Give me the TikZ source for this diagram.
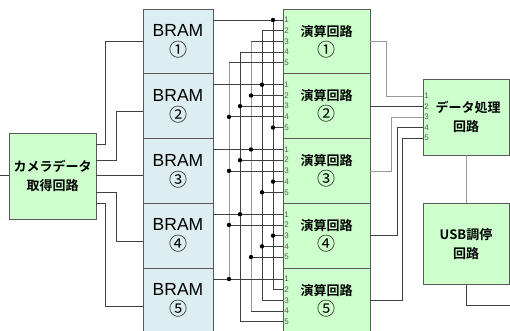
\documentclass[tikz,border=0pt]{standalone}
\usepackage{fontspec}
\setmainfont{Liberation Sans}
\newfontfamily\jp{Noto Sans CJK JP}[BoldFont={Noto Sans CJK JP Bold}]
\usetikzlibrary{positioning}
\definecolor{bramfill}{RGB}{221,238,241}
\definecolor{calcfill}{RGB}{204,255,204}

\begin{document}
\begin{tikzpicture}[x=1pt, y=-1pt,
  box/.style={draw=black!65, line width=0.6pt, fill=#1, align=center, inner sep=0pt},
  box/.default=calcfill,
  wire/.style={draw=black!75, line width=0.8pt},
  wirelt/.style={draw=black!40, line width=0.8pt},
  port/.style={font=\fontsize{8}{8}\selectfont, text=black!65, inner sep=0pt, anchor=west},
  jpbold/.style={font=\jp\bfseries\fontsize{13}{19}\selectfont}]
\clip (0,0) rectangle (510,331);
% memory and calc columns
\foreach \i/\n in {1/①,2/②,3/③,4/④,5/⑤}{
  \node[box=bramfill, minimum width=70pt, minimum height=64.75pt,
        font=\fontsize{17.5}{20}\selectfont] (bram\i) at (178,{41.4+64.75*(\i-1)})
        {BRAM\\{\jp\fontsize{18}{20}\selectfont\n}};
  \node[box, minimum width=87pt, minimum height=64.75pt,
        font=\jp\bfseries\fontsize{13}{20}\selectfont] (calc\i) at (326.5,{41.4+64.75*(\i-1)})
        {演算回路\\{\mdseries\fontsize{18}{20}\selectfont\n}};
}
\node[box, minimum width=87pt, minimum height=86pt, jpbold] (cam) at (52.5,176) {カメラデータ\\取得回路};
\node[box, minimum width=86pt, minimum height=76pt, jpbold] (proc) at (466,117) {\hspace*{4pt}データ処理\\回路};
\node[box, minimum width=86pt, minimum height=81pt, jpbold, below=48pt of proc] (usb) {USB調停\\回路};
\coordinate (camin) at (-2,175);
\coordinate (usbout) at (512,305);
% ports
\foreach \j in {1,...,5}{
  \foreach \k in {1,...,5}{
    \coordinate (p\j-\k) at ([yshift={(3-\k)*10.7pt}]calc\j.west);
    \node[port] (l\j-\k) at ([xshift=1.5pt]p\j-\k) {\k};
  }
}
\foreach \k in {1,...,5}{
  \coordinate (q\k) at ([yshift={(3-\k)*10.5pt}]proc.west);
  \node[port] (ql\k) at ([xshift=1.5pt]q\k) {\k};
}
% buses
\foreach \i/\s in {1/wire,2/wire,3/wirelt,4/wire,5/wirelt}{
  \coordinate (bus\i) at ({273-11*(\i-1)},0);
  \pgfmathtruncatemacro\b{mod(\i,5)+1}
  \draw[\s] (bus\i |- p1-\i) -- (bus\i |- p5-\b);
}
\foreach \j in {1,...,5}{
  \draw[wire] (bram\j.east |- p\j-1) -- (p\j-1);
  \fill (bus\j |- p\j-1) circle (2.2pt);
  \foreach \k in {2,...,5}{
    \pgfmathtruncatemacro\i{mod(\j+\k-2,5)+1}
    \draw[wire] (bus\i |- p\j-\k) -- (p\j-\k);
    \ifnum\j>1 \ifnum\j<5 \fill (bus\i |- p\j-\k) circle (2.2pt); \fi\fi
  }
}
% camera to memories
\draw[wire] (camin) -- (cam.west |- camin);
\draw[wire] ([yshift=32pt]cam.east) -| ([xshift=-37pt]bram1.west) -- (bram1.west);
\draw[wire] ([yshift=16pt]cam.east) -| ([xshift=-26pt,yshift=-5.5pt]bram2.west) -- ([yshift=-5.5pt]bram2.west);
\draw[wire] (cam.east |- camin) -- (bram3.west |- camin);
\draw[wire] ([yshift=-16pt]cam.east) -| ([xshift=-26pt,yshift=-5.5pt]bram4.west) -- ([yshift=-5.5pt]bram4.west);
\draw[wire] ([yshift=-27pt]cam.east) -| ([xshift=-37pt,yshift=-5.5pt]bram5.west) -- ([yshift=-5.5pt]bram5.west);
% calc to data processing
\draw[wirelt] (calc1.east) -- ++(16,0) |- (q1);
\draw[wire] (calc2.east |- q2) -- (q2);
\draw[wirelt] (calc3.east) -- ++(21,0) |- (q3);
\draw[wire] (calc4.east) -- ++(27,0) |- (q4);
\draw[wire] (calc5.east) -- ++(32,0) |- (q5);
\draw[wirelt] (proc.south) -- (usb.north);
\draw[wire] (usb.south) |- (usbout);
\end{tikzpicture}
\end{document}
